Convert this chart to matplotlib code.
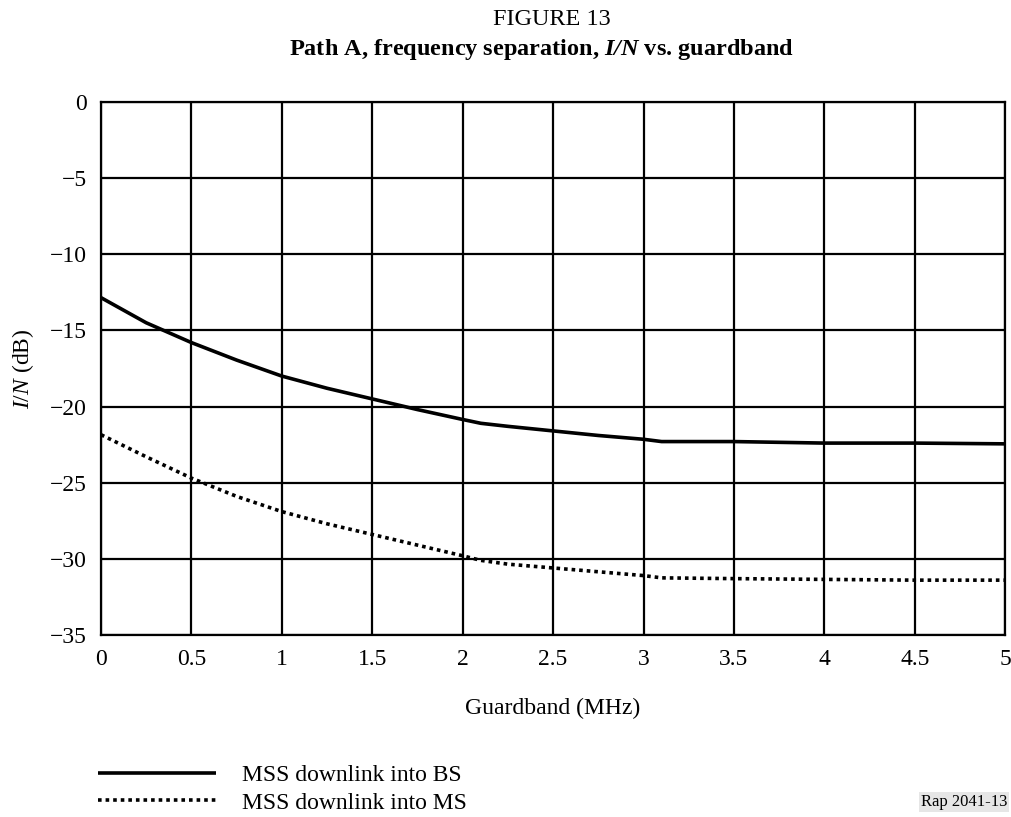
import matplotlib
matplotlib.use("Agg")
import matplotlib.pyplot as plt

guardband = [0, 0.25, 0.5, 0.75, 1.0, 1.25, 1.5, 1.75, 2.0, 2.1, 2.25, 2.5, 2.75, 3.0, 3.1, 3.5, 4.0, 4.5, 5.0]
bs_in = [-12.85, -14.5, -15.8, -16.95, -18.0, -18.8, -19.5, -20.2, -20.85, -21.1, -21.3, -21.6, -21.9, -22.15, -22.3, -22.3, -22.4, -22.4, -22.45]
ms_in = [-21.85, -23.3, -24.7, -25.9, -26.9, -27.7, -28.4, -29.1, -29.8, -30.1, -30.35, -30.6, -30.85, -31.1, -31.25, -31.3, -31.35, -31.4, -31.4]
series_labels = ["MSS downlink into BS", "MSS downlink into MS"]
xticks = [0, 0.5, 1, 1.5, 2, 2.5, 3, 3.5, 4, 4.5, 5]
xtick_labels = ["0", "0.5", "1", "1.5", "2", "2.5", "3", "3.5", "4", "4.5", "5"]
yticks = [0, -5, -10, -15, -20, -25, -30, -35]
ytick_labels = ["0", "\u22125", "\u221210", "\u221215", "\u221220", "\u221225", "\u221230", "\u221235"]

plt.rcParams['font.family'] = ['Liberation Serif', 'DejaVu Serif']
plt.rcParams['mathtext.fontset'] = 'custom'
plt.rcParams['mathtext.rm'] = 'Liberation Serif'
plt.rcParams['mathtext.it'] = 'Liberation Serif:italic'
plt.rcParams['mathtext.bf'] = 'Liberation Serif:bold'
plt.rcParams['mathtext.bfit'] = 'Liberation Serif:bold:italic'

FS = 17

fig = plt.figure(figsize=(10.12, 8.17), dpi=100)
ax = fig.add_axes([0.0998, 0.2228, 0.8935, 0.6524])

l1, = ax.plot(guardband, bs_in, color='black', lw=2.6, solid_capstyle='butt', label=series_labels[0])
l2, = ax.plot(guardband, ms_in, color='black', lw=2.6, linestyle=(0, (1, 1.1)), dash_capstyle='butt', label=series_labels[1])

ax.set_xlim(0, 5)
ax.set_ylim(-35, 0)
ax.set_xticks(xticks)
ax.set_xticklabels(xtick_labels)
ax.set_yticks(yticks)
ax.set_yticklabels(ytick_labels)
ax.grid(True, color='black', lw=1.6)
ax.tick_params(length=0, labelsize=FS, pad=10)
for s in ax.spines.values():
    s.set_color('black')
    s.set_linewidth(1.6)

ax.set_xlabel("Guardband (MHz)", fontsize=FS, labelpad=20)
ax.set_ylabel(r"$\mathit{I/N}$ (dB)", fontsize=FS, labelpad=10)

fig.text(0.5455, 0.976, "FIGURE 13", ha='center', va='center', fontsize=17.5)
fig.text(0.5346, 0.939, r"Path A, frequency separation, $\mathbfit{I/N}$ vs. guardband",
         ha='center', va='center', fontsize=17.5, fontweight='bold')

leg = fig.legend(handles=[l1, l2], loc='upper left', bbox_to_anchor=(0.097, 0.064),
                 frameon=False, fontsize=FS, handlelength=5.0, handletextpad=1.1,
                 labelspacing=0.25, borderpad=0, borderaxespad=0)

fig.text(0.995, 0.018, "Rap 2041-13", ha='right', va='center', fontsize=12,
         bbox=dict(facecolor='#e6e6e6', edgecolor='none', pad=1.5))

fig.savefig("out.png", dpi=100)
